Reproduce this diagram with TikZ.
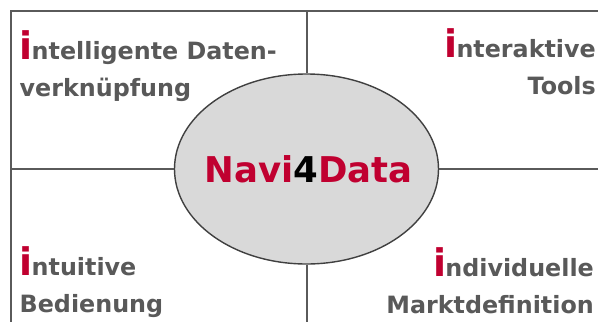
\documentclass[tikz,border=0pt]{standalone}
\usepackage{fontspec}
\setmainfont{DejaVu Sans}
\usetikzlibrary{shapes.geometric}
\definecolor{framegray}{RGB}{90,90,90}
\definecolor{ringgray}{RGB}{64,64,64}
\definecolor{corefill}{RGB}{217,217,217}
\definecolor{textgray}{RGB}{89,89,89}
\definecolor{navired}{RGB}{192,0,48}
\newcommand{\redi}{{\color{navired}\fontsize{38}{38}\selectfont i}\kern-1pt}

\begin{document}
\begin{tikzpicture}[x=1pt,y=-1pt,
  frame/.style={draw=framegray,line width=2pt},
  corner/.style={inner sep=0pt,text=textgray,font=\fontsize{23.8}{37}\selectfont\bfseries}]
  \useasboundingbox (0,0) rectangle (598,322);
  \coordinate (topleft) at (10.5,11);
  \coordinate (topright) at (598,11);
  \coordinate (bottomleft) at (10.5,322);
  \coordinate (midleft) at (10.5,169);
  \coordinate (midright) at (598,169);
  \coordinate (midtop) at (306.5,11);
  \coordinate (midbottom) at (306.5,322);
  \draw[frame] (topright) -- (topleft) -- (bottomleft);
  \node[ellipse,draw=ringgray,fill=corefill,line width=1.4pt,
    minimum width=264pt,minimum height=190pt,inner sep=0pt,
    label={[name=brand,font=\fontsize{35.5}{40}\selectfont\bfseries,xshift=2pt]center:{\color{navired}Navi}4{\color{navired}Data}}]
    (core) at (306.5,169) {};
  \draw[frame] (midleft) -- (core.west);
  \draw[frame] (core.east) -- (midright);
  \draw[frame] (midtop) -- (core.north);
  \draw[frame] (core.south) -- (midbottom);
  % four corners, anchored on the last line
  \node[corner,anchor=base west,align=left] (linking) at (19.5,96)
    {\redi ntelligente Daten-\\verknüpfung};
  \node[corner,anchor=base east,align=right] (tools) at (596,94)
    {\redi nteraktive\\Tools};
  \node[corner,anchor=base west,align=left] (usage) at (19.5,312)
    {\redi ntuitive\\Bedienung};
  \node[corner,anchor=base east,align=right] (market) at (594,313)
    {\redi ndividuelle\\Marktdefinition};
\end{tikzpicture}
\end{document}
